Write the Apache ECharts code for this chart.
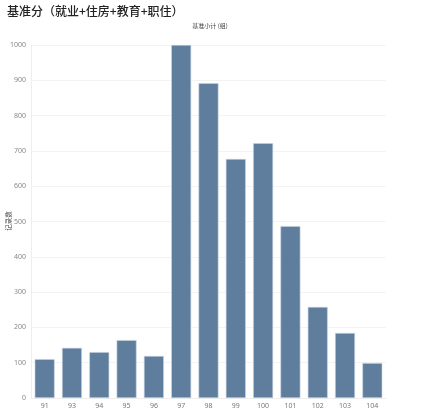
<!DOCTYPE html>
<html><head><meta charset="utf-8">
<script src="https://cdn.jsdelivr.net/npm/echarts@6/dist/echarts.min.js"></script>
<style>html,body{margin:0;padding:0;background:#fff}#c{width:432px;height:418px}</style>
</head><body><div id="c"></div>
<script>
const categories = ['91','93','94','95','96','97','98','99','100','101','102','103','104'];
const counts = [110, 142, 130, 164, 119, 1000, 892, 677, 722, 487, 258, 184, 99];
const yTicks = [0,100,200,300,400,500,600,700,800,900,1000];
const yName = '记录数';

const chart = echarts.init(document.getElementById('c'));
chart.setOption({
  animation: false,
  title: [
    {text: '基准分（就业+住房+教育+职住）', left: 2, top: 0,
     textStyle: {fontSize: 12, fontWeight: 500, color: '#222', fontFamily: 'Noto Sans CJK SC'}},
    {text: '基准小计 (组)', left: 205, top: 18, textAlign: 'center',
     textStyle: {fontSize: 6, fontWeight: 'normal', color: '#444', fontFamily: 'Noto Sans CJK SC'}}
  ],
  graphic: [{
    type: 'text', x: 9, y: 221, rotation: Math.PI / 2,
    style: {text: yName, fontSize: 6.5, fill: '#444', fontFamily: 'Noto Sans CJK SC',
            align: 'center', verticalAlign: 'middle'}
  }],
  grid: {left: 31, right: 46, top: 45, bottom: 20, containLabel: false, outerBoundsMode: 'none'},
  xAxis: {
    type: 'category', data: categories,
    axisLine: {show: true, lineStyle: {color: '#eee'}},
    axisTick: {show: false},
    axisLabel: {fontSize: 7, color: '#777', margin: 4, fontFamily: 'Noto Sans'}
  },
  yAxis: {
    type: 'value', min: 0, max: 1000, interval: 100,
    axisLine: {show: true, lineStyle: {color: '#eee'}},
    axisTick: {show: false},
    splitLine: {lineStyle: {color: '#f3f3f3'}},
    axisLabel: {fontSize: 7, color: '#888', margin: 5, fontFamily: 'Noto Sans',
      formatter: v => yTicks.includes(v) ? String(v) : ''}
  },
  series: [{
    type: 'bar', data: counts, barWidth: '73%',
    itemStyle: {color: '#5f7e9e', borderColor: '#c9d4e0', borderWidth: 0.6}
  }]
});
</script></body></html>
